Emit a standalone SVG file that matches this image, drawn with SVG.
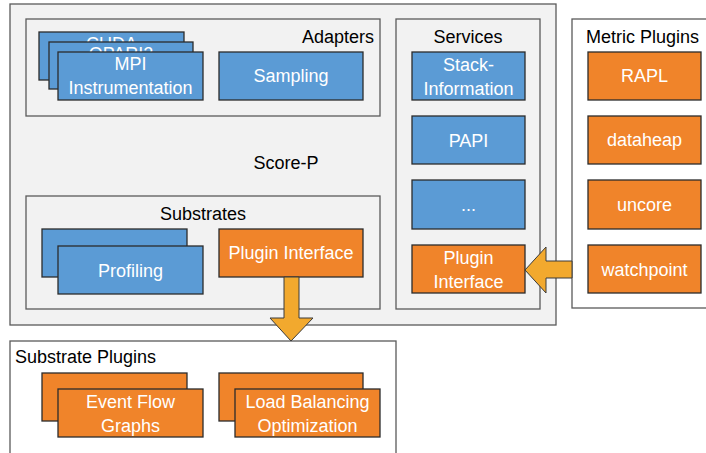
<svg xmlns="http://www.w3.org/2000/svg" width="706" height="453" viewBox="0 0 706 453">
<defs>
<style>
.cont{fill:#f2f2f2;stroke:#5a5a5a;stroke-width:1.3}
.wcont{fill:#ffffff;stroke:#5a5a5a;stroke-width:1.3}
.blue{fill:#5b9bd5;stroke:#2b2b2b;stroke-width:1.3}
.orange{fill:#f0842a;stroke:#2b2b2b;stroke-width:1.3}
.arrow{fill:#f2a92e;stroke:#3a3a3a;stroke-width:1}
text{font-family:"Liberation Sans",Arial,sans-serif;font-size:18px}
.lbl{fill:#000000}
.in{fill:#ffffff;text-anchor:middle}
</style>
</defs>
<rect width="706" height="453" fill="#ffffff"/>

<g id="score-p">
<rect class="cont" x="10" y="4" width="546" height="321"/>
<text class="lbl" x="286" y="169" text-anchor="middle">Score-P</text>
</g>

<g id="adapters">
<rect class="cont" x="26" y="19" width="354" height="97"/>
<text class="lbl" x="374" y="43" text-anchor="end">Adapters</text>
</g>
<g id="cuda">
<rect class="blue" x="39" y="32" width="145" height="48"/>
<text class="in" x="111.5" y="50">CUDA</text>
<text class="in" x="111.5" y="74">Instrumentation</text>
</g>
<g id="opari">
<rect class="blue" x="49" y="42" width="144" height="47"/>
<text class="in" x="121" y="60">OPARI2</text>
<text class="in" x="121" y="84">Instrumentation</text>
</g>
<g id="mpi">
<rect class="blue" x="58" y="52" width="145" height="48"/>
<text class="in" x="130.5" y="70">MPI</text>
<text class="in" x="130.5" y="94">Instrumentation</text>
</g>
<g id="sampling">
<rect class="blue" x="219" y="52" width="144" height="48"/>
<text class="in" x="291" y="82">Sampling</text>
</g>

<g id="substrates">
<rect class="cont" x="26" y="196" width="354" height="113"/>
<text class="lbl" x="203" y="220" text-anchor="middle">Substrates</text>
</g>
<g id="tracing">
<rect class="blue" x="42" y="229" width="145" height="48"/>
<text class="in" x="114.5" y="259">Tracing</text>
</g>
<g id="profiling">
<rect class="blue" x="58" y="246" width="145" height="48"/>
<text class="in" x="130.5" y="277">Profiling</text>
</g>
<g id="substrate-plugin-interface">
<rect class="orange" x="219" y="229" width="144" height="48"/>
<text class="in" x="291" y="259">Plugin Interface</text>
</g>

<g id="services">
<rect class="cont" x="396" y="19" width="144" height="290"/>
<text class="lbl" x="468" y="43" text-anchor="middle">Services</text>
</g>
<g id="stack-information">
<rect class="blue" x="412" y="52" width="113" height="48"/>
<text class="in" x="468.5" y="71">Stack-</text>
<text class="in" x="468.5" y="95">Information</text>
</g>
<g id="papi">
<rect class="blue" x="412" y="116" width="113" height="48"/>
<text class="in" x="468.5" y="147">PAPI</text>
</g>
<g id="more-services">
<rect class="blue" x="412" y="180" width="113" height="49"/>
<text class="in" x="468.5" y="211">...</text>
</g>
<g id="service-plugin-interface">
<rect class="orange" x="412" y="245" width="113" height="48"/>
<text class="in" x="468.5" y="264">Plugin</text>
<text class="in" x="468.5" y="288">Interface</text>
</g>

<g id="metric-plugins">
<rect class="wcont" x="572" y="19" width="150" height="289"/>
<text class="lbl" x="586" y="43">Metric Plugins</text>
</g>
<g id="rapl">
<rect class="orange" x="588" y="52" width="113" height="48"/>
<text class="in" x="644.5" y="82">RAPL</text>
</g>
<g id="dataheap">
<rect class="orange" x="588" y="116" width="113" height="48"/>
<text class="in" x="644.5" y="146">dataheap</text>
</g>
<g id="uncore">
<rect class="orange" x="588" y="180" width="113" height="49"/>
<text class="in" x="644.5" y="211">uncore</text>
</g>
<g id="watchpoint">
<rect class="orange" x="588" y="245" width="113" height="48"/>
<text class="in" x="644.5" y="276">watchpoint</text>
</g>

<g id="substrate-plugins">
<rect class="wcont" x="10" y="341" width="386" height="130"/>
<text class="lbl" x="15" y="363">Substrate Plugins</text>
</g>
<g id="event-flow-graphs">
<rect class="orange" x="42" y="373" width="145" height="48"/>
<rect class="orange" x="58" y="389" width="145" height="48"/>
<text class="in" x="130.5" y="408">Event Flow</text>
<text class="in" x="130.5" y="432">Graphs</text>
</g>
<g id="load-balancing">
<rect class="orange" x="219" y="373" width="144" height="48"/>
<rect class="orange" x="235" y="389" width="145" height="48"/>
<text class="in" x="307.5" y="408">Load Balancing</text>
<text class="in" x="307.5" y="432">Optimization</text>
</g>

<g id="connectors">
<path class="arrow" d="M284,277 L299,277 L299,318 L313,318 L291,341 L270,318 L284,318 Z"/>
<path class="arrow" d="M572,261 L546,261 L546,247 L525,270 L546,293 L546,278 L572,278 Z"/>
</g>
</svg>
